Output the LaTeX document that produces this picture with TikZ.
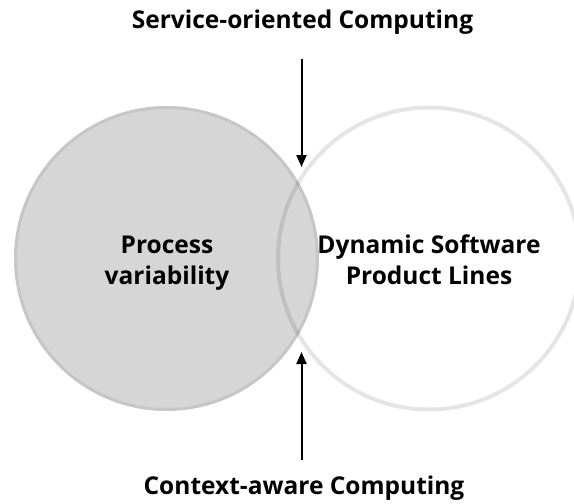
\documentclass[tikz,border=0pt]{standalone}
\usepackage{fontspec}
\setmainfont{Open Sans}
\usetikzlibrary{arrows.meta}

\definecolor{procfill}{HTML}{D6D6D6}
\definecolor{procline}{HTML}{C6C6C6}

\tikzset{
  label text/.style={font=\bfseries\fontsize{24.5}{31}\selectfont, inner sep=0pt, align=center, text=black},
  pointer/.style={draw=black, line width=2pt, -{Triangle[length=12pt,width=10pt]}},
}

\begin{document}
\begin{tikzpicture}[x=1pt, y=-1pt]
  \useasboundingbox (0,0) rectangle (574,504);

  % the two overlapping areas
  \node[circle, minimum size=302pt, inner sep=0pt, fill=procfill, draw=procline, line width=3pt]
    (proc) at (166.5,258.5) {};
  \node[circle, minimum size=302pt, inner sep=0pt, draw=black, draw opacity=0.1, line width=4pt]
    (dspl) at (429,258.5) {};

  % circle captions (struts keep both lines on a fixed 31pt pitch)
  \node[label text] (proctext) at (167,262.3) {\strut Process\\\strut variability};
  \node[label text] (dspltext) at (429,262.3) {\strut Dynamic Software\\\strut Product Lines};

  % outer influences
  \node[label text, anchor=base] (soc) at (302.5,28.3) {Service-oriented Computing};
  \node[label text, anchor=base] (cac) at (304,494.5) {Context-aware Computing};

  \coordinate (socfrom) at (301.5,59);
  \coordinate (socto)   at (301.5,167);
  \coordinate (cacfrom) at (301.5,460);
  \coordinate (cacto)   at (301.5,352);

  \draw[pointer] (socfrom) -- (socto);
  \draw[pointer] (cacfrom) -- (cacto);
\end{tikzpicture}
\end{document}
